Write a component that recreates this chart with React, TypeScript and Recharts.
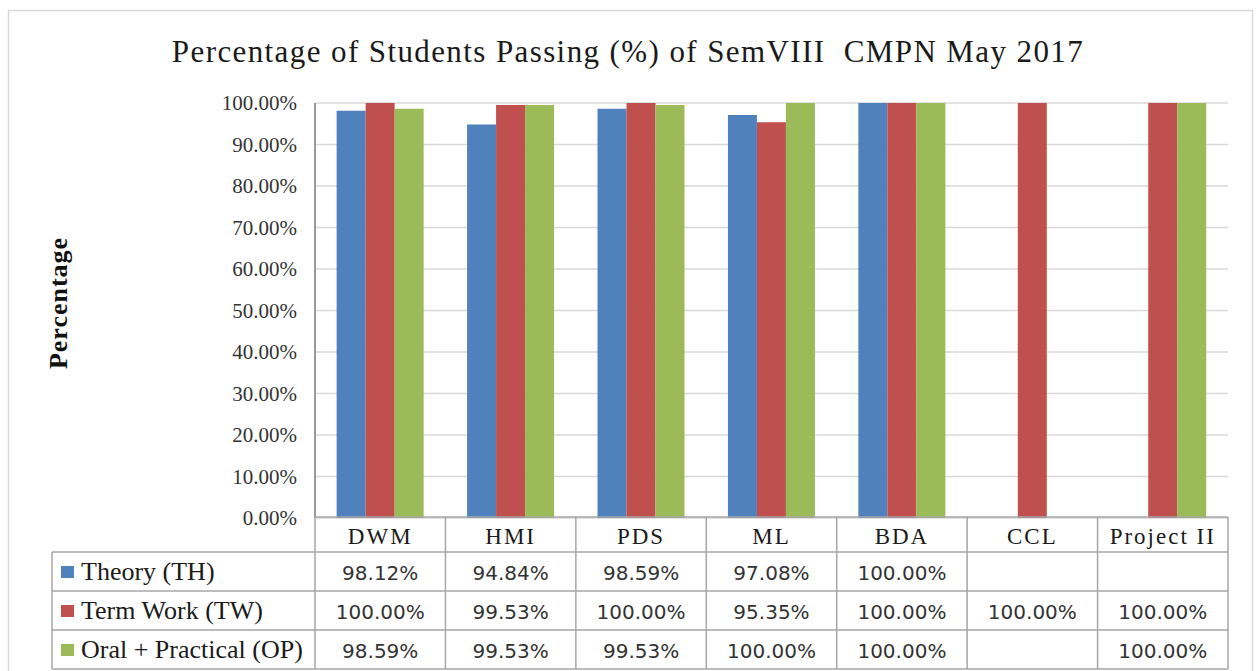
import { BarChart, Bar, XAxis, YAxis, CartesianGrid } from "recharts";

const categories = ["DWM", "HMI", "PDS", "ML", "BDA", "CCL", "Project II"];
const theory = [98.12, 94.84, 98.59, 97.08, 100, null, null];
const termWork = [100, 99.53, 100, 95.35, 100, 100, 100];
const oralPractical = [98.59, 99.53, 99.53, 100, 100, null, 100];
const yTicks = [0, 10, 20, 30, 40, 50, 60, 70, 80, 90, 100];

const series = [
  { key: "theory", label: "Theory (TH)", color: "#4F81BD", values: theory },
  { key: "termWork", label: "Term Work (TW)", color: "#C0504D", values: termWork },
  { key: "oralPractical", label: "Oral + Practical (OP)", color: "#9BBB59", values: oralPractical },
];

const data = categories.map((name, i) => ({
  name,
  theory: theory[i],
  termWork: termWork[i],
  oralPractical: oralPractical[i],
}));

const fmt = (v: number) => v.toFixed(2) + "%";

const serif = "Liberation Serif";
const plotLeft = 315;
const plotRight = 1228;
const tableLeft = 52;
const rowY = [517, 552, 591, 630, 669];
const colW = (plotRight - plotLeft) / categories.length;
const gridColor = "#a6a6a6";

function TableOverlay() {
  const lines: JSX.Element[] = [];
  lines.push(<line key="h0" x1={plotLeft} x2={plotRight} y1={rowY[0]} y2={rowY[0]} />);
  for (let r = 1; r < rowY.length; r++) {
    lines.push(<line key={"h" + r} x1={tableLeft} x2={plotRight} y1={rowY[r]} y2={rowY[r]} />);
  }
  lines.push(<line key="vl" x1={tableLeft} x2={tableLeft} y1={rowY[1]} y2={rowY[4]} />);
  for (let k = 0; k <= categories.length; k++) {
    const x = plotLeft + k * colW;
    lines.push(<line key={"v" + k} x1={x} x2={x} y1={rowY[0]} y2={rowY[4]} />);
  }
  return (
    <svg width={1257} height={671} style={{ position: "absolute", left: 0, top: 0, pointerEvents: "none" }}>
      <rect x={8.5} y={10.5} width={1244} height={700} fill="none" stroke="#d9d9d9" strokeWidth={1.5} />
      <text x={628} y={62} textAnchor="middle" fontFamily={serif} fontSize={31} letterSpacing={1.4} fill="#1a1a1a" style={{ whiteSpace: "pre" }}>
        {"Percentage of Students Passing (%) of SemVIII  CMPN May 2017"}
      </text>
      <text
        transform="translate(67,303) rotate(-90)"
        textAnchor="middle"
        fontFamily={serif}
        fontWeight="bold"
        fontSize={26}
        letterSpacing={1}
        fill="#111"
      >
        Percentage
      </text>
      <g stroke={gridColor} strokeWidth={1.5}>{lines}</g>
      {categories.map((c, i) => (
        <text key={c} x={plotLeft + (i + 0.5) * colW} y={544} textAnchor="middle" fontFamily={serif} fontSize={23} letterSpacing={2} fill="#1a1a1a">
          {c}
        </text>
      ))}
      {series.map((s, r) => (
        <g key={s.key}>
          <rect x={61} y={rowY[r + 1] + 14} width={13} height={12} fill={s.color} />
          <text x={81} y={rowY[r + 1] + 28} fontFamily={serif} fontSize={26} fill="#1a1a1a">
            {s.label}
          </text>
          {s.values.map((v, i) =>
            v == null ? null : (
              <text
                key={i}
                x={plotLeft + (i + 0.5) * colW}
                y={rowY[r + 1] + 28}
                textAnchor="middle"
                fontFamily="DejaVu Sans"
                fontSize={20}
                fill="#333"
              >
                {fmt(v)}
              </text>
            )
          )}
        </g>
      ))}
    </svg>
  );
}

export default function App() {
  return (
    <div style={{ position: "absolute", left: 0, top: 0, width: 1257, height: 671, background: "#fff", overflow: "hidden" }}>
      <div style={{ position: "absolute", left: 0, top: 0 }}>
        <BarChart
          width={1257}
          height={530}
          data={data}
          margin={{ top: 103, right: 1257 - plotRight, bottom: 12, left: plotLeft - 100 }}
          barCategoryGap="16.6%"
          barGap={0}
        >
          <CartesianGrid vertical={false} stroke="#d9d9d9" strokeWidth={1.5} />
          <XAxis dataKey="name" hide />
          <YAxis
            width={100}
            domain={[0, 100]}
            ticks={yTicks}
            interval={0}
            tickFormatter={fmt}
            tickLine={false}
            tickSize={0}
            tickMargin={18}
            axisLine={{ stroke: "#9a9a9a", strokeWidth: 2 }}
            tick={{ fill: "#333", fontSize: 21, fontFamily: serif }}
          />
          {series.map((s) => (
            <Bar key={s.key} dataKey={s.key} fill={s.color} isAnimationActive={false} />
          ))}
        </BarChart>
      </div>
      <TableOverlay />
    </div>
  );
}
